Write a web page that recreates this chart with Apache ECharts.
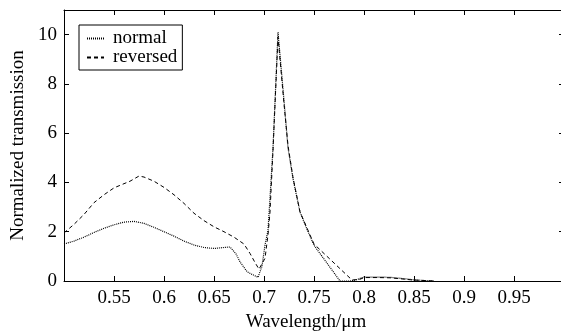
<!DOCTYPE html>
<html>
<head>
<meta charset="utf-8">
<script src="https://cdn.jsdelivr.net/npm/echarts@6/dist/echarts.min.js"></script>
<style>html,body{margin:0;padding:0;background:#fff;}#c{width:561px;height:335px;}</style>
</head>
<body>
<div id="c"></div>
<script>
const seriesNames = ['normal', 'reversed'];
const normalX = [0.500,0.510,0.520,0.530,0.540,0.550,0.560,0.570,0.580,0.590,0.600,0.610,0.620,0.630,0.640,0.650,0.660,0.666,0.672,0.676,0.683,0.688,0.694,0.698,0.701,0.704,0.709,0.714,0.719,0.724,0.729,0.736,0.743,0.750,0.776,0.786,0.791,0.797,0.800,0.813,0.826,0.839,0.849,0.860,0.870];
const normalY = [1.50,1.62,1.78,1.97,2.14,2.28,2.39,2.42,2.34,2.18,2.00,1.82,1.62,1.46,1.36,1.32,1.36,1.38,1.10,0.78,0.38,0.27,0.15,0.60,1.46,2.05,5.40,10.10,7.80,5.40,4.15,2.80,2.10,1.45,0.00,0.00,0.03,0.12,0.16,0.16,0.15,0.10,0.05,0.02,0.00];
const reversedX = [0.500,0.510,0.520,0.530,0.540,0.550,0.560,0.566,0.575,0.580,0.590,0.600,0.610,0.620,0.630,0.640,0.650,0.660,0.670,0.680,0.686,0.691,0.695,0.701,0.704,0.706,0.709,0.714,0.720,0.724,0.729,0.736,0.743,0.750,0.788,0.796,0.800,0.813,0.826,0.839,0.849,0.860,0.870];
const reversedY = [1.95,2.30,2.70,3.18,3.50,3.78,3.95,4.05,4.26,4.22,4.05,3.80,3.50,3.15,2.75,2.45,2.20,2.00,1.78,1.50,1.12,0.75,0.48,0.92,1.87,2.80,5.30,9.90,7.20,5.50,4.20,2.80,2.15,1.50,0.04,0.07,0.14,0.14,0.13,0.08,0.04,0.02,0.00];
const xTicks = [0.55,0.6,0.65,0.7,0.75,0.8,0.85,0.9,0.95];
const yTicks = [0,2,4,6,8,10];

const FONT = 'Liberation Serif';
const FS = 19;
function zip(xs, ys){ return xs.map((x,i)=>[x, ys[i]]); }
function fmtX(v){ const r = Math.round(v*100)/100; return xTicks.some(t=>Math.abs(t-r)<1e-9) ? String(r) : ''; }
function fmtY(v){ const r = Math.round(v); return yTicks.indexOf(r) >= 0 && Math.abs(v-r)<1e-9 ? String(r) : ''; }

const chart = echarts.init(document.getElementById('c'), null, {renderer:'canvas'});
const axisLine = {show:true, onZero:false, lineStyle:{color:'#000', width:1}};
const tick = {show:true, inside:true, length:5, lineStyle:{color:'#000', width:1}};
chart.setOption({
  animation:false,
  backgroundColor:'#fff',
  textStyle:{fontFamily:FONT},
  grid:{left:64, top:10, width:500, height:271, containLabel:false, outerBoundsMode:'none'},
  legend:{
    show:true, orient:'vertical', left:79, top:25,
    data:seriesNames,
    itemWidth:17, itemHeight:10, itemGap:0,
    padding:[4,5,3,7],
    borderColor:'#000', borderWidth:1,
    itemStyle:{opacity:0},
    textStyle:{fontFamily:FONT, fontSize:FS, color:'#000', lineHeight:19, padding:[0,0,0,4]}
  },
  xAxis:[
    {type:'value', min:0.5, max:1.0, interval:0.05, position:'bottom',
     name:'Wavelength/\u03bcm', nameLocation:'middle', nameGap:30,
     nameTextStyle:{fontFamily:FONT, fontSize:FS, color:'#000', padding:[0,16,0,0]},
     axisLine:axisLine, axisTick:tick, splitLine:{show:false},
     axisLabel:{formatter:fmtX, fontFamily:FONT, fontSize:FS, color:'#000', margin:8}},
    {type:'value', min:0.5, max:1.0, interval:0.05, position:'top',
     axisLine:axisLine, axisTick:tick, splitLine:{show:false}, axisLabel:{show:false}}
  ],
  yAxis:[
    {type:'value', min:0, max:11, interval:2, position:'left',
     name:'Normalized transmission', nameLocation:'middle', nameGap:28,
     nameTextStyle:{fontFamily:FONT, fontSize:FS, color:'#000'},
     axisLine:axisLine, axisTick:tick, splitLine:{show:false},
     axisLabel:{formatter:fmtY, fontFamily:FONT, fontSize:FS, color:'#000', margin:7}},
    {type:'value', min:0, max:11, interval:2, position:'right',
     axisLine:axisLine, axisTick:tick, splitLine:{show:false}, axisLabel:{show:false}}
  ],
  series:[
    {name:seriesNames[0], type:'line', data:zip(normalX, normalY), symbol:'none', smooth:false,
     lineStyle:{color:'#000', width:1.2, type:[1,1]}, itemStyle:{color:'#000'}},
    {name:seriesNames[1], type:'line', data:zip(reversedX, reversedY), symbol:'none', smooth:false,
     lineStyle:{color:'#000', width:1, type:[4,3]}, itemStyle:{color:'#000'}}
  ]
});
</script>
</body>
</html>
